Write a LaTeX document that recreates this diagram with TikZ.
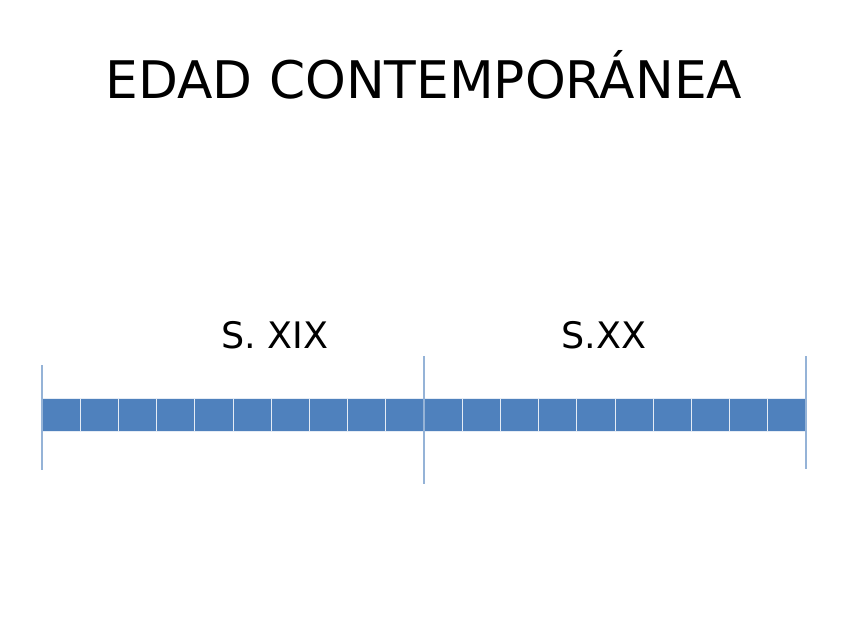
\documentclass[tikz,border=0pt]{standalone}
\usepackage{fontspec}
\setmainfont{DejaVu Sans}
\definecolor{barblue}{HTML}{4F81BD}
\definecolor{tickblue}{HTML}{95B3D7}
\begin{document}
\begin{tikzpicture}[x=1pt,y=-1pt,
  cell/.style={fill=barblue,draw=white!85!barblue,line width=1pt},
  tick/.style={draw=tickblue,line width=2.2pt},
  lbl/.style={inner sep=0pt,anchor=base}]
\useasboundingbox (0,0) rectangle (848,636);
\node[lbl,font=\fontsize{51.8}{60}\selectfont] (title) at (424,99) {EDAD CONTEMPORÁNEA};
\foreach \i in {0,...,19} {
  \path[cell] ({42+\i*38.2},398) rectangle ({42+(\i+1)*38.2},431);
}
\coordinate (l1) at (42,365); \coordinate (l2) at (42,470);
\coordinate (m1) at (424,356); \coordinate (m2) at (424,484);
\coordinate (r1) at (806,356); \coordinate (r2) at (806,469);
\draw[tick] (l1) -- (l2);
\draw[tick] (m1) -- (m2);
\draw[tick] (r1) -- (r2);
\node[lbl,font=\fontsize{36.5}{42}\selectfont] (s19) at (275,348) {S. XIX};
\node[lbl,font=\fontsize{36.5}{42}\selectfont] (s20) at (604,348) {S.XX};
\end{tikzpicture}
\end{document}
